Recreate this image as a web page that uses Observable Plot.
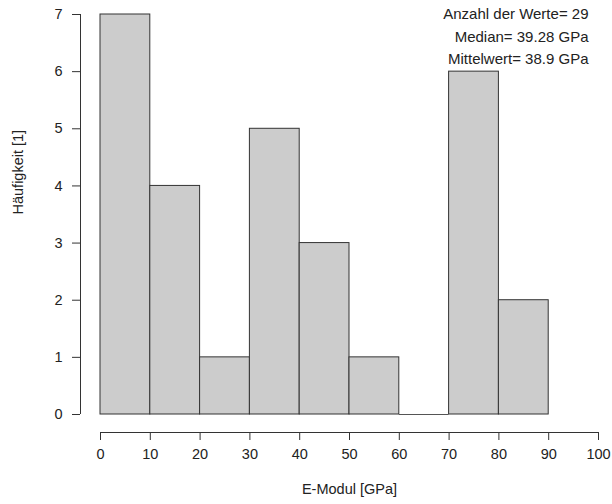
<!DOCTYPE html>
<html>
<head>
<meta charset="utf-8">
<script src="https://cdn.jsdelivr.net/npm/d3@7"></script>
<script src="https://cdn.jsdelivr.net/npm/@observablehq/plot@0.6"></script>
<style>
  html, body { margin: 0; padding: 0; background: #fff; }
</style>
</head>
<body>
<div id="chart"></div>
<script>
// Histogram bins (E-Modul in GPa) and counts
const binStarts = [0, 10, 20, 30, 40, 50, 60, 70, 80];
const binEnds   = [10, 20, 30, 40, 50, 60, 70, 80, 90];
const counts    = [7, 4, 1, 5, 3, 1, 0, 6, 2];

const xTicks = [0, 10, 20, 30, 40, 50, 60, 70, 80, 90, 100];
const yTicks = [0, 1, 2, 3, 4, 5, 6, 7];

const statLines = ["Anzahl der Werte= 29", "Median= 39.28 GPa", "Mittelwert= 38.9 GPa"];
const xTitle = "E-Modul [GPa]";
const yTitle = "Häufigkeit [1]";

const bins = binStarts.map((s, i) => ({x1: s, x2: binEnds[i], y: counts[i]}));

const textColor = "#222";
const fs = 14.5;

const chart = Plot.plot({
  width: 612,
  height: 504,
  marginLeft: 80,
  insetLeft: 20,
  marginRight: 14,
  marginTop: 14,
  marginBottom: 72,
  insetBottom: 18,
  style: {fontFamily: "'Liberation Sans', Arial, sans-serif", fontSize: fs + "px", color: textColor, background: "#fff"},
  x: {domain: [xTicks[0], xTicks[xTicks.length - 1]]},
  y: {domain: [yTicks[0], yTicks[yTicks.length - 1]]},
  marks: [
    Plot.rectY(bins, {x1: "x1", x2: "x2", y: "y", fill: "#cccccc", stroke: "#333", strokeWidth: 1}),
    Plot.ruleY(bins.filter(d => d.y === 0), {y: "y", x1: "x1", x2: "x2", stroke: "#555"}),
    Plot.axisX({ticks: xTicks, tickSize: 8, tickPadding: 8, tickFormat: d => String(d), label: null, stroke: "#333", fontSize: fs}),
    Plot.axisY({ticks: yTicks, tickSize: 8, tickPadding: 10, tickFormat: d => String(d), label: null, stroke: "#333", fontSize: fs}),
    Plot.ruleY([yTicks[0]], {x1: xTicks[0], x2: xTicks[xTicks.length - 1], dy: 18, stroke: "#333"}),
    Plot.ruleX([xTicks[0]], {y1: yTicks[0], y2: yTicks[yTicks.length - 1], dx: -20, stroke: "#333"}),
    Plot.text([xTitle], {frameAnchor: "bottom", dx: 10, dy: 61, fill: textColor, fontSize: fs}),
    Plot.text([yTitle], {frameAnchor: "left", dx: -62, dy: -9, rotate: -90, fill: textColor, fontSize: fs}),
    ...statLines.map((t, i) => Plot.text([t], {frameAnchor: "top-right", textAnchor: "end", dx: -10, dy: i * 22.5, lineAnchor: "middle", fill: textColor, fontSize: 15}))
  ]
});

document.getElementById("chart").appendChild(chart);
</script>
</body>
</html>
